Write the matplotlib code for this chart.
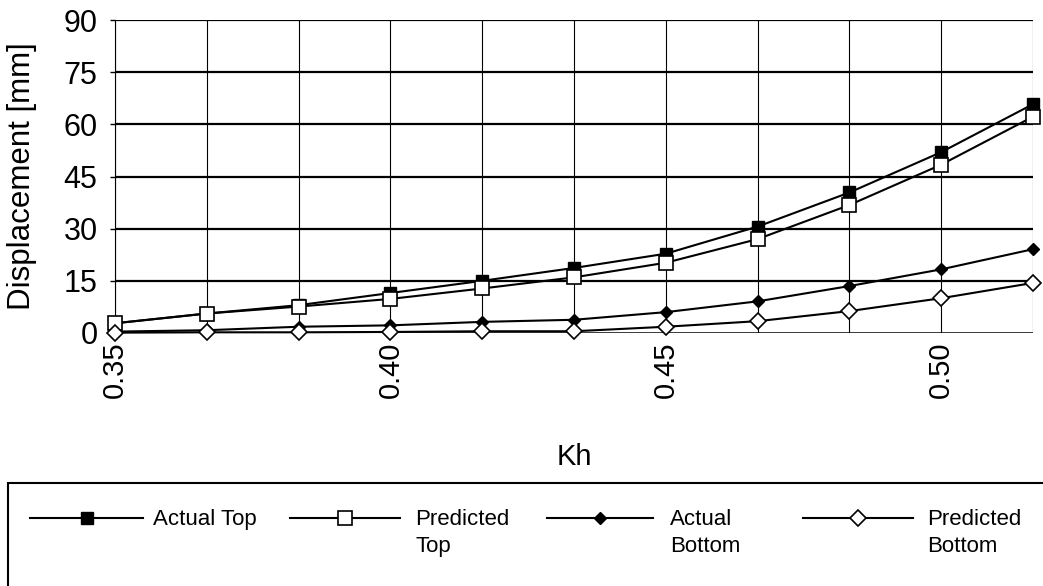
import numpy as np
import matplotlib
matplotlib.use('Agg')
import matplotlib.pyplot as plt
from matplotlib.lines import Line2D
from matplotlib.patches import Rectangle

plt.rcParams['font.family'] = ['Liberation Sans', 'DejaVu Sans']

# seismic coefficient steps (1/60 apart)
kh = 0.35 + np.arange(11) / 60.0

actual_top      = [2.8, 5.6, 8.0, 11.5, 15.0, 18.7, 22.8, 30.6, 40.4, 52.0, 65.8]
predicted_top   = [2.8, 5.6, 7.6, 9.8, 12.8, 16.0, 20.2, 27.0, 36.8, 48.4, 62.2]
actual_bottom   = [0.4, 0.8, 1.8, 2.2, 3.2, 3.8, 6.0, 9.1, 13.5, 18.3, 24.1]
predicted_bottom = [0.1, 0.2, 0.2, 0.3, 0.5, 0.5, 1.8, 3.4, 6.3, 10.0, 14.4]

labels = ['Actual Top', 'Predicted\nTop', 'Actual\nBottom', 'Predicted\nBottom']
series = [actual_top, predicted_top, actual_bottom, predicted_bottom]
styles = [dict(marker='s', ms=8, mfc='black', mec='black'),
          dict(marker='s', ms=9.5, mfc='white', mec='black', mew=1.2),
          dict(marker='D', ms=6, mfc='black', mec='black'),
          dict(marker='D', ms=8.5, mfc='white', mec='black', mew=1.2)]

W, H = 1043, 586
fig = plt.figure(figsize=(W / 100, H / 100), dpi=100)
ax = fig.add_axes([115 / W, 1 - 333 / H, (1033 - 115) / W, (333 - 20) / H])

for y, st in zip(series, styles):
    ax.plot(kh, y, color='black', lw=1.5, clip_on=False, zorder=3, **st)

ax.set_xlim(kh[0], kh[-1])
ax.set_ylim(0, 90)
ax.set_yticks(np.arange(0, 91, 15))
ax.set_xticks([0.35, 0.40, 0.45, 0.50])
ax.set_xticklabels(['0.35', '0.40', '0.45', '0.50'], rotation=90, fontsize=21)
ax.set_xticks(kh, minor=True)
ax.tick_params(axis='y', labelsize=22, length=3.6, width=1, pad=9)
ax.tick_params(axis='x', which='both', length=0, pad=6)

for v in kh:
    ax.axvline(v, color='black', lw=0.8, zorder=1)
for v in np.arange(15, 91, 15):
    ax.axhline(v, color='black', lw=1.6, zorder=1)
ax.axhline(0, color='black', lw=1.8, zorder=1)

for s in ['top', 'right', 'bottom']:
    ax.spines[s].set_visible(False)
ax.spines['left'].set_linewidth(0.8)

ax.set_ylabel('Displacement [mm]', fontsize=22.5)
ax.yaxis.set_label_coords(-0.085, 0.5)
ax.set_xlabel('Kh', fontsize=21)
ax.xaxis.set_label_coords(0.5, -0.35)

# legend box, running off the right and bottom edges
fig.add_artist(Rectangle((8 / W, -0.1), 1.1, 1 - 483 / H + 0.1,
                         transform=fig.transFigure, fill=False,
                         edgecolor='black', lw=1.5))

key_x = [(30, 143, 153), (290, 400, 415), (547, 653, 670), (803, 913, 927)]
key_y = 1 - 518 / H
for (x0, x1, xt), st, lab in zip(key_x, styles, labels):
    fig.add_artist(Line2D([x0 / W, (x0 + x1) / 2 / W, x1 / W], [key_y, key_y, key_y],
                          transform=fig.transFigure, color='black', lw=1.5,
                          markevery=[1], **st))
    fig.text(xt / W, 1 - 509 / H, lab, fontsize=16, va='top', ha='left',
             linespacing=1.35)

fig.savefig('out.png', dpi=100)
